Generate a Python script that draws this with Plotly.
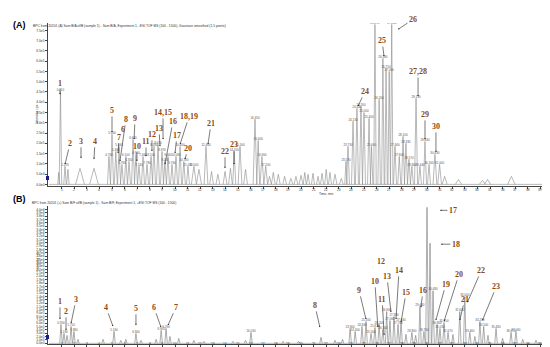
import plotly.graph_objects as go

# ---------------- Panel A data (retention time, min ; intensity, cps) -------------
a_time = [0.77, 0.91, 1.27, 1.5, 2.46, 3.57, 4.76, 5.0, 5.3, 5.56, 5.79, 6.1, 6.35, 6.67, 6.9,
          7.14, 7.46, 7.78, 8.1, 8.33, 8.65, 8.97, 9.2, 9.44, 9.76, 10.08, 10.4, 10.7, 11.03,
          11.5, 11.9, 12.46, 12.9, 13.4, 13.97, 14.4, 14.7, 15.16, 15.6, 16.35, 16.6, 16.9,
          17.2, 17.5, 17.8, 18.2, 18.7, 19.2, 19.6, 20.0, 20.3, 20.56, 20.95, 21.35, 21.67,
          22.0, 22.3, 22.7, 23.2, 23.57, 23.73, 24.13, 24.44, 24.76, 25.0, 25.4, 25.6, 25.87,
          26.2, 26.5, 26.75, 27.0, 27.2, 27.46, 27.8, 28.1, 28.33, 28.57, 28.8, 29.13, 29.44,
          29.84, 30.16, 30.63, 31.0, 31.4, 32.5, 34.4, 34.8, 36.7]
a_int = [58e3, 453e3, 88e3, 73e3, 78e3, 78e3, 136e3, 243e3, 160e3, 185e3, 97e3, 136e3, 112e3,
         219e3, 146e3, 88e3, 136e3, 97e3, 136e3, 185e3, 195e3, 160e3, 112e3, 136e3, 97e3,
         136e3, 185e3, 112e3, 88e3, 88e3, 73e3, 185e3, 63e3, 49e3, 63e3, 78e3, 160e3, 185e3,
         73e3, 317e3, 214e3, 136e3, 88e3, 39e3, 58e3, 49e3, 39e3, 29e3, 39e3, 44e3, 58e3,
         49e3, 54e3, 39e3, 54e3, 73e3, 58e3, 49e3, 29e3, 112e3, 185e3, 307e3, 370e3, 380e3,
         350e3, 321e3, 185e3, 779e3, 414e3, 614e3, 565e3, 550e3, 779e3, 185e3, 136e3, 234e3,
         200e3, 122e3, 88e3, 419e3, 88e3, 209e3, 97e3, 146e3, 97e3, 39e3, 24e3, 19e3, 24e3,
         39e3]
a_halfwidth = [0.08, 0.1, 0.1, 0.1, 0.35, 0.35, 0.12, 0.12, 0.12, 0.12, 0.12, 0.12, 0.12,
               0.12, 0.12, 0.12, 0.12, 0.12, 0.12, 0.12, 0.12, 0.12, 0.12, 0.12, 0.12, 0.12,
               0.12, 0.12, 0.12, 0.2, 0.2, 0.15, 0.15, 0.15, 0.15, 0.15, 0.12, 0.15, 0.15, 0.15,
               0.12, 0.15, 0.15, 0.15, 0.15, 0.15, 0.15, 0.15, 0.15, 0.15, 0.12, 0.12, 0.12,
               0.12, 0.12, 0.12, 0.12, 0.15, 0.15, 0.1, 0.12, 0.12, 0.12, 0.12, 0.12, 0.12,
               0.1, 0.1, 0.1, 0.1, 0.1, 0.1, 0.1, 0.12, 0.12, 0.12, 0.12, 0.12, 0.12, 0.12,
               0.12, 0.12, 0.12, 0.15, 0.15, 0.2, 0.25, 0.25, 0.25, 0.3]

# ---------------- Panel B data ---------------------------------------------------
b_time = [0.95, 1.19, 1.43, 1.75, 1.98, 2.3, 4.29, 5.16, 5.7, 6.1, 6.9, 7.3, 8.5, 8.9, 9.29,
          9.6, 10.3, 11.5, 12.3, 14.6, 15.6, 16.03, 18.57, 19.8, 21.59, 22.7, 23.3, 23.9,
          24.3, 24.84, 25.16, 25.56, 25.87, 26.2, 26.5, 26.8, 27.06, 27.38, 27.7, 27.94,
          28.33, 28.8, 29.1, 29.44, 29.76, 30.0, 30.24, 30.48, 30.8, 31.03, 31.35, 31.67,
          32.06, 32.6, 33.0, 33.4, 33.8, 34.2, 34.5, 34.84, 35.48, 36.0, 36.67, 37.06, 37.6,
          38.65]
b_int = [563e3, 296e3, 237e3, 504e3, 356e3, 119e3, 119e3, 356e3, 89e3, 119e3, 296e3, 89e3,
         119e3, 385e3, 444e3, 207e3, 148e3, 89e3, 59e3, 59e3, 89e3, 326e3, 59e3, 59e3, 178e3,
         89e3, 119e3, 444e3, 356e3, 504e3, 652e3, 296e3, 474e3, 563e3, 415e3, 948e3, 681e3,
         800e3, 563e3, 652e3, 267e3, 326e3, 237e3, 1.10e6, 356e3, 4.06e6, 2.99e6, 1.57e6,
         563e3, 444e3, 622e3, 326e3, 267e3, 948e3, 1.39e6, 326e3, 207e3, 652e3, 504e3, 237e3,
         444e3, 148e3, 326e3, 356e3, 119e3, 89e3]
b_halfwidth = 0.1

# ---------------- Peak number annotations ------------------------------------------
a_labels = ["1", "2", "3", "4", "5", "7", "8", "9", "10", "11", "12", "13", "14,15", "16",
            "17", "18,19", "20", "21", "22", "23", "24", "25", "26", "27,28", "29", "30"]
a_tip_t = [0.87, 1.27, 2.54, 3.57, 5.0, 5.48, 5.63, 6.75, 6.98, 7.7, 8.17, 8.81, 9.05, 9.2,
           10.0, 10.4, 10.79, 12.62, 13.97, 14.68, 24.52, 26.59, 27.7, 29.29, 29.84, 30.71]
a_tip_i = [438e3, 97e3, 127e3, 122e3, 253e3, 151e3, 112e3, 219e3, 112e3, 136e3, 161e3,
           185e3, 219e3, 97e3, 151e3, 195e3, 122e3, 195e3, 78e3, 97e3, 380e3, 623e3, 755e3,
           428e3, 219e3, 156e3]
a_ax = [0, 5, 0, 1, 0, 1, 6, 1, 0, 0, 0, -1, 0, 8, 2, 9, 3, 3, 0, 0, 7, -2, 15, 0, 0, 0]
a_ay = [-11, -21, -17, -18, -22, -16, -42, -21, -15, -15, -17, -18, -27, -43, -18, -28, -11,
        -21, -17, -20, -15, -16, -10, -25, -25, -26]

b_labels = ["1", "2", "3", "4", "5", "6", "7", "8", "9", "10", "11", "13", "14", "15", "16",
            "17", "18", "19", "20", "21", "22", "23"]
b_tip_t = [0.87, 1.35, 1.75, 5.08, 6.9, 8.89, 9.44, 21.5, 25.16, 26.1, 26.6, 27.14, 27.54,
           27.94, 29.52, 31.03, 31.1, 30.7, 31.35, 32.6, 33.2, 34.4]
b_tip_i = [716e3, 388e3, 597e3, 507e3, 537e3, 478e3, 537e3, 478e3, 716e3, 478e3, 239e3,
           925e3, 716e3, 627e3, 1.07e6, 3.97e6, 2.96e6, 687e3, 657e3, 687e3, 1.22e6, 687e3]
b_ax = [0, 0, 5, -7, 0, -7, 8, -5, -7, -3, -2, -4, 3, 5, 2, 13, 15, 10, 15, 5, 14, 14]
b_ay = [-18, -19, -24, -19, -17, -20, -18, -22, -29, -46, -36, -36, -49, -30, -17, 0, 0, -36,
        -47, -21, -32, -34]

a_yticks = [i * 5e4 for i in range(16)]
b_yticks = [i * 1e5 for i in range(41)]
x_ticks = list(range(1, 40))

TRACE = "#8a8a8a"
NUM = "#8b4a14"

A_RANGE = [-8000, 7.86e5]
B_RANGE = [-20000, 4.1e6]


def tick_text(v):
    if v == 0:
        return "0.0e0"
    s = f"{v:.1e}"
    m, e = s.split("e")
    return f"{m}e{int(e)}"


def peaks_to_line(times, ints, hw):
    xs, ys = [], []
    for i, (t, h) in enumerate(zip(times, ints)):
        w = hw[i] if isinstance(hw, list) else hw
        xs += [t - w, t, t + w, None]
        ys += [0, h, 0, None]
    return xs, ys


fig = go.Figure()

ax_, ay_ = peaks_to_line(a_time, a_int, a_halfwidth)
fig.add_trace(go.Scatter(x=[0, 40], y=[0, 0], mode="lines", line=dict(color=TRACE, width=0.6),
                         xaxis="x", yaxis="y", hoverinfo="skip"))
fig.add_trace(go.Scatter(x=ax_, y=ay_, mode="lines", line=dict(color=TRACE, width=0.6),
                         xaxis="x", yaxis="y"))
bx_, by_ = peaks_to_line(b_time, b_int, b_halfwidth)
fig.add_trace(go.Scatter(x=[0, 40], y=[0, 0], mode="lines", line=dict(color=TRACE, width=0.6),
                         xaxis="x2", yaxis="y2", hoverinfo="skip"))
fig.add_trace(go.Scatter(x=bx_, y=by_, mode="lines", line=dict(color="#777777", width=0.6),
                         xaxis="x2", yaxis="y2"))

# retention-time labels on peaks
at = [t for t, v in zip(a_time, a_int) if v >= 80e3]
ai = [v for v in a_int if v >= 80e3]
fig.add_trace(go.Scatter(x=at, y=ai, mode="text", text=[f"{t:.3f}" for t in at],
                         textposition="top center",
                         textfont=dict(size=3, color="#555555", family="Arial"),
                         xaxis="x", yaxis="y", hoverinfo="skip"))
bt = [t for t, v in zip(b_time, b_int) if v >= 290e3 and v < 2.5e6]
bi = [v for v in b_int if v >= 290e3 and v < 2.5e6]
fig.add_trace(go.Scatter(x=bt, y=bi, mode="text", text=[f"{t:.3f}" for t in bt],
                         textposition="top center",
                         textfont=dict(size=3, color="#555555", family="Arial"),
                         xaxis="x2", yaxis="y2", hoverinfo="skip"))

annotations = []
# x tick labels placed just beneath each axis line
for v in x_ticks:
    annotations.append(dict(x=v, y=1 - 181.5 / 347, xref="x", yref="paper", text=str(v),
                            showarrow=False, font=dict(family="Arial", size=3.3, color="#333")))
    annotations.append(dict(x=v, y=1 - 340 / 347, xref="x2", yref="paper", text=str(v),
                            showarrow=False, font=dict(family="Arial", size=3.3, color="#333")))

for lab, t, i, dx, dy in zip(a_labels, a_tip_t, a_tip_i, a_ax, a_ay):
    annotations.append(dict(x=t, y=i, xref="x", yref="y", text=f"<b>{lab}</b>",
                            showarrow=True, ax=dx, ay=dy, arrowhead=2, arrowsize=0.5,
                            arrowwidth=0.6, arrowcolor="#222", standoff=0,
                            font=dict(family="Liberation Serif", size=8, color=NUM)))
for lab, t, i, dx, dy in zip(b_labels, b_tip_t, b_tip_i, b_ax, b_ay):
    annotations.append(dict(x=t, y=i, xref="x2", yref="y2", text=f"<b>{lab}</b>",
                            showarrow=True, ax=dx, ay=dy, arrowhead=2, arrowsize=0.5,
                            arrowwidth=0.6, arrowcolor="#222", standoff=0,
                            font=dict(family="Liberation Serif", size=8, color=NUM)))
annotations.append(dict(x=111 / 550, y=1 - 121 / 347, xref="paper", yref="paper",
                        text="<b>6</b>", showarrow=False,
                        font=dict(family="Liberation Serif", size=8, color=NUM)))
annotations.append(dict(x=379 / 550, y=1 - 260 / 347, xref="paper", yref="paper",
                        text="<b>12</b>", showarrow=False,
                        font=dict(family="Liberation Serif", size=8, color=NUM)))

annotations += [
    dict(x=3 / 550, y=1 - 10 / 347, xref="paper", yref="paper", text="<b>(A)</b>",
         showarrow=False, xanchor="left", font=dict(family="Arial", size=9, color="#000")),
    dict(x=3 / 550, y=1 - 191 / 347, xref="paper", yref="paper", text="<b>(B)</b>",
         showarrow=False, xanchor="left", font=dict(family="Arial", size=9, color="#000")),
    dict(x=23 / 550, y=1 - 14 / 347, xref="paper", yref="paper", xanchor="left",
         text="BPC from 20201 (A) Sam B/A of/B (sample 1) - Sam B/A, Experiment 1, -ESI TOF MS (100 - 1500), Gaussian smoothed (1.5 points)",
         showarrow=False, font=dict(family="Arial", size=3.3, color="#333")),
    dict(x=22 / 550, y=1 - 195 / 347, xref="paper", yref="paper", xanchor="left",
         text="BPC from 20201 (+) Sam B/F of/B (sample 1) - Sam B/F, Experiment 1, +ESI TOF MS (100 - 1500)",
         showarrow=False, font=dict(family="Arial", size=3.3, color="#333")),
    dict(x=25 / 550, y=1 - 95 / 347, xref="paper", yref="paper", text="Intensity, cps",
         textangle=-90, showarrow=False, font=dict(family="Arial", size=3.3, color="#333")),
    dict(x=25 / 550, y=1 - 265 / 347, xref="paper", yref="paper", text="Intensity, cps",
         textangle=-90, showarrow=False, font=dict(family="Arial", size=3.3, color="#333")),
    dict(x=318 / 550, y=1 - 186 / 347, xref="paper", yref="paper", text="Time, min",
         showarrow=False, font=dict(family="Arial", size=3.3, color="#333")),
]

axis_common = dict(showgrid=False, zeroline=False, showline=True, linecolor="#444",
                   linewidth=0.7, ticks="outside", ticklen=2, tickwidth=0.5,
                   tickcolor="#444", tickfont=dict(size=3.3, family="Arial", color="#333"))

fig.update_layout(
    width=550, height=347, margin=dict(l=0, r=0, t=0, b=0),
    paper_bgcolor="white", plot_bgcolor="white", showlegend=False,
    xaxis=dict(domain=[40 / 550, 545 / 550], range=[-0.08, 40.0], anchor="y",
               tickvals=x_ticks, showticklabels=False, **axis_common),
    yaxis=dict(domain=[1 - 178 / 347, 1 - 15 / 347], range=A_RANGE, anchor="x",
               tickvals=a_yticks, ticktext=[tick_text(v) for v in a_yticks], **axis_common),
    xaxis2=dict(domain=[40 / 550, 545 / 550], range=[-0.08, 40.0], anchor="y2",
                tickvals=x_ticks, showticklabels=False, **axis_common),
    yaxis2=dict(domain=[1 - 336 / 347, 1 - 198 / 347], range=B_RANGE, anchor="x2",
                tickvals=b_yticks, ticktext=[tick_text(v) for v in b_yticks], **axis_common),
    annotations=annotations,
    shapes=[
        dict(type="rect", xref="paper", yref="paper", x0=38 / 550, x1=41 / 550,
             y0=1 - 172 / 347, y1=1 - 168 / 347, fillcolor="#1a1a8c", line=dict(width=0)),
        dict(type="rect", xref="paper", yref="paper", x0=38 / 550, x1=41 / 550,
             y0=1 - 331 / 347, y1=1 - 327 / 347, fillcolor="#1a1a8c", line=dict(width=0)),
    ],
)

fig.write_html("out.html")
